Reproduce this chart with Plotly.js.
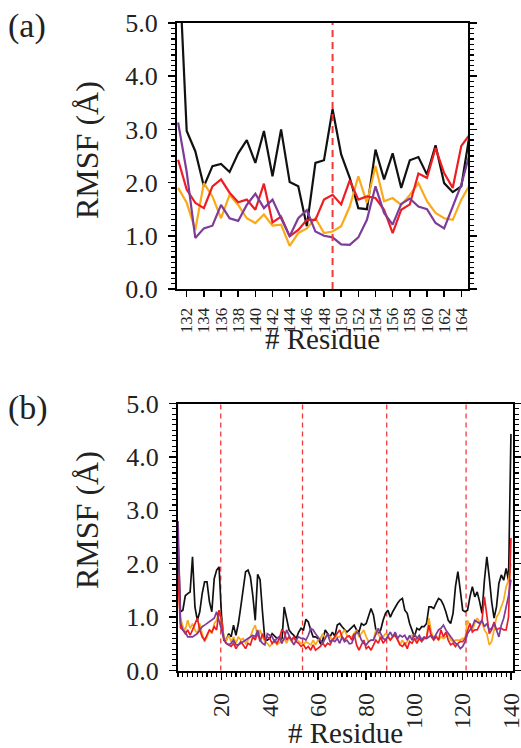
<!DOCTYPE html>
<html>
<head>
<meta charset="utf-8">
<script src="https://cdn.plot.ly/plotly-3.0.1.min.js"></script>
<style>
  html, body { margin: 0; padding: 0; background: #fff; }
  #chart { width: 521px; height: 748px; }
  #chart svg text { font-family: "Liberation Serif", "Times New Roman", Times, serif !important; }
</style>
</head>
<body>
<div id="chart"></div>
<script>
// ---------- Panel (a): residues 131..165 ----------
var residuesA = [131,132,133,134,135,136,137,138,139,140,141,142,143,144,145,146,147,148,149,150,151,152,153,154,155,156,157,158,159,160,161,162,163,164,165];
var blackA  = [6.5,2.97,2.59,1.93,2.31,2.35,2.20,2.55,2.80,2.37, 2.97,2.12,3.00,2.01,1.93,1.18,2.37,2.42,3.38,2.53, 2.09,1.52,1.50,2.62,2.06,2.55,1.90,2.42,2.48,2.15, 2.70,1.99,1.82,1.93,2.94];
var redA    = [2.43,1.87,1.62,1.52,1.93,2.06,1.81,1.63,1.68,1.49, 1.98,1.25,1.36,0.99,1.11,1.30,1.30,1.68,1.77,1.59, 2.04,1.68,1.74,1.71,1.49,1.05,1.49,1.59,2.17,2.09, 2.65,2.18,1.90,2.69,2.91];
var orangeA = [1.90,1.62,1.11,1.99,1.74,1.33,1.77,1.58,1.33,1.24, 1.40,1.19,1.21,0.81,1.05,1.14,1.33,1.05,1.08,1.18, 1.55,2.12,1.62,2.31,1.65,1.71,1.58,1.77,1.99,1.65, 1.43,1.33,1.30,1.68,1.96];
var purpleA = [3.13,2.20,0.96,1.14,1.19,1.58,1.33,1.28,1.58,1.79, 1.52,1.68,1.33,0.99,1.33,1.48,1.08,1.00,0.97,0.84, 0.83,0.97,1.30,1.93,1.43,1.21,1.60,1.70,1.55,1.50, 1.24,1.14,1.55,1.96,2.56];
var markersA = [149];

// ---------- Panel (b): residues 2..140 ----------
var firstResidueB = 2;
var blackB = [2.4,1.1,1.13,1.4,1.44,1.47,2.13,1.19,0.94,1.1,
  1.44,1.66,1.66,1.29,1.1,1.72,1.88,1.94,1.04,0.57,
  0.57,0.69,0.63,0.85,0.66,0.88,1.19,1.57,1.85,1.88,
  1.75,1.4,0.94,1.8,1.7,1.1,0.57,0.57,0.6,0.69,
  0.65,0.6,0.63,0.51,1.19,1.0,0.76,0.7,0.66,0.6,
  0.72,0.79,0.76,0.96,0.91,0.76,0.63,0.63,0.6,0.51,
  0.57,0.76,0.69,0.63,0.72,0.64,0.85,0.88,0.82,0.76,
  0.72,0.76,0.8,0.85,0.76,0.72,0.88,0.85,0.88,1.0,
  1.16,1.04,0.76,0.69,0.76,0.94,1.07,1.13,1.0,1.1,
  1.19,1.26,1.32,1.35,1.13,1.07,0.88,0.76,0.63,0.79,
  0.76,0.82,0.82,0.88,1.19,1.19,1.16,1.26,1.35,1.32,
  1.23,1.1,0.94,0.88,1.07,1.57,1.85,1.5,1.13,1.1,
  1.13,1.38,1.57,1.38,1.47,1.29,1.07,1.69,2.13,1.75,
  1.29,0.98,1.19,1.63,1.79,1.69,1.91,1.69,4.43];
var redB = [1.8,0.8,0.76,0.69,0.76,0.66,0.76,0.88,0.98,0.76,
  0.63,0.57,0.66,0.76,0.72,0.82,0.76,1.13,0.94,0.57,
  0.51,0.48,0.45,0.51,0.41,0.48,0.54,0.48,0.41,0.51,
  0.48,0.63,0.57,0.72,0.54,0.69,0.57,0.63,0.6,0.51,
  0.57,0.51,0.6,0.76,0.72,0.57,0.63,0.57,0.63,0.54,
  0.51,0.45,0.48,0.41,0.45,0.38,0.48,0.38,0.41,0.45,
  0.51,0.45,0.51,0.48,0.57,0.63,0.69,0.76,0.63,0.57,
  0.63,0.65,0.57,0.69,0.48,0.38,0.48,0.57,0.41,0.45,
  0.38,0.48,0.57,0.51,0.63,0.51,0.57,0.63,0.57,0.63,
  0.66,0.57,0.48,0.45,0.51,0.41,0.54,0.51,0.6,0.51,
  0.6,0.54,0.6,0.6,0.85,0.63,0.57,0.63,0.57,0.76,
  0.63,0.72,0.57,0.48,0.51,0.45,0.51,0.54,0.54,0.6,
  0.76,0.88,0.72,0.76,0.76,0.85,0.94,1.38,1.0,0.69,
  0.76,0.91,0.76,0.79,0.79,0.76,0.76,1.0,2.48];
var orangeB = [1.6,1.0,0.82,0.76,0.94,0.79,0.88,0.76,0.69,0.88,
  0.69,0.54,0.63,0.76,0.69,0.88,0.94,1.13,0.94,0.63,
  0.57,0.66,0.54,0.63,0.51,0.63,0.57,0.6,0.51,0.57,
  0.63,0.76,0.85,0.63,0.76,0.63,0.54,0.51,0.45,0.5,
  0.54,0.48,0.52,0.57,0.6,0.51,0.63,0.54,0.6,0.57,
  0.55,0.51,0.48,0.54,0.51,0.48,0.57,0.48,0.57,0.6,
  0.69,0.6,0.66,0.63,0.57,0.6,0.63,0.63,0.69,0.76,
  0.66,0.63,0.63,0.69,0.76,0.63,0.69,0.76,0.63,0.54,
  0.57,0.57,0.76,0.69,0.6,0.63,0.69,0.66,0.57,0.63,
  0.69,0.6,0.48,0.57,0.48,0.54,0.63,0.66,0.6,0.57,
  0.63,0.6,0.6,0.63,0.98,0.72,0.6,0.66,0.57,0.63,
  0.6,0.63,0.69,0.57,0.54,0.57,0.57,0.57,0.6,0.6,
  0.94,0.85,0.76,0.88,0.98,0.91,0.91,0.76,0.69,0.48,
  0.54,0.76,1.0,1.07,1.19,1.32,1.57,1.69,2.0];
var purpleB = [2.8,0.9,0.76,0.72,0.63,0.63,0.63,0.66,0.69,0.76,
  0.82,0.85,0.88,0.91,0.94,0.98,1.1,0.94,0.76,0.6,
  0.51,0.48,0.51,0.57,0.48,0.48,0.51,0.54,0.57,0.6,
  0.63,0.66,0.63,0.76,0.57,0.51,0.48,0.69,0.66,0.63,
  0.54,0.6,0.63,0.51,0.6,0.76,0.66,0.57,0.48,0.57,
  0.63,0.6,0.6,0.57,0.66,0.79,0.76,0.69,0.63,0.57,
  0.51,0.6,0.69,0.54,0.57,0.54,0.6,0.51,0.63,0.54,
  0.57,0.5,0.51,0.63,0.72,0.69,0.57,0.51,0.48,0.54,
  0.57,0.57,0.69,0.79,0.69,0.6,0.57,0.66,0.72,0.63,
  0.72,0.6,0.66,0.63,0.66,0.57,0.66,0.57,0.69,0.6,
  0.66,0.57,0.63,0.6,0.63,0.66,0.6,0.69,0.76,0.79,
  0.85,0.76,0.69,0.63,0.57,0.51,0.48,0.41,0.45,0.54,
  0.69,0.76,0.82,0.94,0.91,0.88,0.94,0.82,0.88,0.76,
  0.79,0.88,0.76,0.63,0.85,0.98,1.19,1.4,1.7];
var markersB = [19.7, 53.6, 88.5, 121.4];

var residuesB = blackB.map(function(_, i){ return firstResidueB + i; });

var COLORS = { black: '#111111', red: '#EE1D23', orange: '#FBA919', purple: '#7D3C98', dash: '#F03A3A' };
var FONT = 'Liberation Serif';
var Y_TITLE = 'RMSF (\u00C5)';
var X_TITLE = '# Residue';

function line(x, y, color, w, xa, ya) {
  return { type: 'scatter', mode: 'lines', x: x, y: y, xaxis: xa, yaxis: ya,
           line: { color: color, width: w }, hoverinfo: 'skip', showlegend: false };
}

var traces = [
  line(residuesA, blackA,  COLORS.black,  2.2, 'x',  'y'),
  line(residuesA, orangeA, COLORS.orange, 2.2, 'x',  'y'),
  line(residuesA, redA,    COLORS.red,    2.2, 'x',  'y'),
  line(residuesA, purpleA, COLORS.purple, 2.2, 'x',  'y'),
  line(residuesB, blackB,  COLORS.black,  1.7, 'x2', 'y2'),
  line(residuesB, orangeB, COLORS.orange, 1.7, 'x2', 'y2'),
  line(residuesB, redB,    COLORS.red,    1.7, 'x2', 'y2'),
  line(residuesB, purpleB, COLORS.purple, 1.7, 'x2', 'y2')
];

var shapes = [];
markersA.forEach(function(v){
  shapes.push({ type: 'line', xref: 'x', yref: 'y', x0: v, x1: v, y0: 0, y1: 5,
                line: { color: COLORS.dash, width: 2, dash: '7px,5px' }, layer: 'above' });
});
markersB.forEach(function(v){
  shapes.push({ type: 'line', xref: 'x2', yref: 'y2', x0: v, x1: v, y0: 0, y1: 5,
                line: { color: COLORS.dash, width: 1.3, dash: '5px,4px' }, layer: 'below' });
});

function yAxis(domain, anchor) {
  return {
    domain: domain, anchor: anchor, range: [0, 5], dtick: 1, tick0: 0, tickformat: '.1f',
    ticks: 'outside', ticklen: 7, tickwidth: 1.5, tickcolor: '#000',
    minor: { dtick: 0.1, ticks: 'outside', ticklen: 4, tickwidth: 1.2, tickcolor: '#000' },
    showline: true, linewidth: 2, linecolor: '#000', mirror: 'ticks',
    showgrid: false, zeroline: false, ticklabelstandoff: 5,
    tickfont: { family: FONT, size: 26, color: '#222' }
  };
}

var layout = {
  width: 521, height: 748,
  margin: { l: 0, r: 0, t: 0, b: 0 },
  paper_bgcolor: '#fff', plot_bgcolor: '#fff',
  font: { family: FONT },
  showlegend: false,
  xaxis: {
    domain: [177/521, 468/521], anchor: 'y', range: [130.87, 164.78],
    tick0: 132, dtick: 2, tickangle: -90,
    ticks: 'outside', ticklen: 6, tickwidth: 1.5, tickcolor: '#000',
    showline: true, linewidth: 2, linecolor: '#000', mirror: true,
    showgrid: false, zeroline: false, ticklabelstandoff: 4,
    tickfont: { family: FONT, size: 17, color: '#222' }
  },
  yaxis: yAxis([1 - 289/748, 1 - 23/748], 'x'),
  xaxis2: {
    domain: [178/521, 513/521], anchor: 'y2', range: [1.98, 140.85],
    tick0: 0, dtick: 20, tickangle: -90,
    ticks: 'outside', ticklen: 7, tickwidth: 1.5, tickcolor: '#000',
    minor: { dtick: 2, ticks: 'outside', ticklen: 4, tickwidth: 1.2, tickcolor: '#000' },
    showline: true, linewidth: 2, linecolor: '#000', mirror: true,
    showgrid: false, zeroline: false, ticklabelstandoff: 4, ticklabeloverflow: 'allow',
    tickfont: { family: FONT, size: 24, color: '#222' }
  },
  yaxis2: yAxis([1 - 670.5/748, 1 - 403.5/748], 'x2'),
  shapes: shapes,
  annotations: [
    { text: '(a)', xref: 'paper', yref: 'paper', x: 6/521, y: 1 - 26/748, xanchor: 'left', yanchor: 'middle',
      showarrow: false, font: { family: FONT, size: 34, color: '#222' } },
    { text: '(b)', xref: 'paper', yref: 'paper', x: 6/521, y: 1 - 408/748, xanchor: 'left', yanchor: 'middle',
      showarrow: false, font: { family: FONT, size: 34, color: '#222' } },
    { text: Y_TITLE, xref: 'paper', yref: 'paper', x: 87/521, y: 1 - 150/748, xanchor: 'center', yanchor: 'middle',
      textangle: -90, showarrow: false, font: { family: FONT, size: 32, color: '#222' } },
    { text: Y_TITLE, xref: 'paper', yref: 'paper', x: 87/521, y: 1 - 520/748, xanchor: 'center', yanchor: 'middle',
      textangle: -90, showarrow: false, font: { family: FONT, size: 32, color: '#222' } },
    { text: X_TITLE, xref: 'paper', yref: 'paper', x: 322/521, y: 1 - 339/748, xanchor: 'center', yanchor: 'middle',
      showarrow: false, font: { family: FONT, size: 29, color: '#222' } },
    { text: X_TITLE, xref: 'paper', yref: 'paper', x: 345/521, y: 1 - 733/748, xanchor: 'center', yanchor: 'middle',
      showarrow: false, font: { family: FONT, size: 29, color: '#222' } }
  ]
};

Plotly.newPlot('chart', traces, layout, { staticPlot: true, displayModeBar: false });
</script>
</body>
</html>
